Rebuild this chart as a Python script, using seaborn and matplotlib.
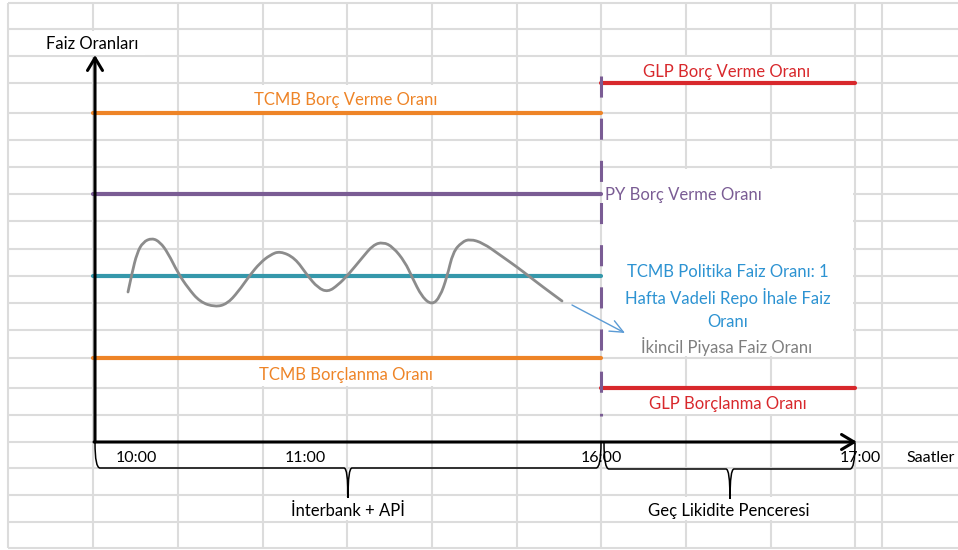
import matplotlib
matplotlib.use("Agg")
import matplotlib.pyplot as plt
from matplotlib.path import Path
from matplotlib.patches import PathPatch, Rectangle
import seaborn as sns
import pandas as pd

# diagram is laid out in the pixel space of the original sheet (x right, y down)
grid_cols = [8, 93, 178, 263, 347, 432, 517, 601, 686, 771, 855, 882]
grid_rows = [3, 29, 56, 83, 113, 140, 167, 194, 221, 249, 276, 303, 330, 358,
             388, 415, 442, 468, 495, 522, 548]

# policy corridor (left side, until 16:00)
tcmb_names = ["TCMB Borç Verme Oranı", "PY Borç Verme Oranı",
              "TCMB Politika Faiz Oranı", "TCMB Borçlanma Oranı"]
tcmb_levels = [113, 194, 276, 358]
tcmb_colors = ["#EE8427", "#7A5C94", "#3598AB", "#EE8427"]

# late liquidity window (right side, 16:00-17:00)
glp_names = ["GLP Borç Verme Oranı", "GLP Borçlanma Oranı"]
glp_levels = [83, 388]

# secondary market rate
wave_x = [128, 132, 137, 143, 152, 160, 168, 178, 188, 200, 215, 227, 238, 250,
          260, 270, 280, 295, 307, 318, 328, 338, 348, 362, 373, 383, 393, 405,
          412, 422, 432, 440, 447, 453, 462, 470, 483, 500, 517, 530, 543, 562]
wave_y = [292, 273, 253, 242, 238, 242, 253, 273, 288, 302, 307, 304, 292, 275,
          263, 255, 251, 258, 275, 288, 292, 285, 275, 258, 245, 242, 247, 262,
          277, 297, 305, 297, 277, 252, 242, 239, 243, 255, 267, 277, 287, 301]

tick_x = [136, 305, 601, 860]
tick_labels = ["10:00", "11:00", "16:00", "17:00"]

x_origin, x_end, y_top, y_axis = 95, 857, 55, 442
t_start = 93
t_split = 601
t_close = 855

sns.set_theme(style="white")
plt.rcParams["font.family"] = ["Lato", "DejaVu Sans"]

fig = plt.figure(figsize=(9.58, 5.5), dpi=100)
ax = fig.add_axes([0, 0, 1, 1])

gc = "#DCDCDC"
ax.hlines(grid_rows, 8, 958, color=gc, lw=1.5, zorder=1)
ax.vlines(grid_cols, 3, 548, color=gc, lw=1.5, zorder=1)

# text boxes of the original hide the sheet grid
boxes = [(40, 31, 105, 24), (240, 85, 210, 26), (620, 57, 220, 25),
         (603, 169, 250, 187), (240, 360, 210, 26), (620, 390, 220, 24),
         (280, 497, 140, 23), (640, 497, 175, 23)]
for bx, by, bw, bh in boxes:
    ax.add_patch(Rectangle((bx, by), bw, bh, facecolor="white",
                           edgecolor="none", zorder=1.5))

# rate lines
rows = []
for i, (name, lvl) in enumerate(zip(tcmb_names, tcmb_levels)):
    rows += [(f"{i}", t_start, lvl), (f"{i}", t_split, lvl)]
for j, (name, lvl) in enumerate(zip(glp_names, glp_levels)):
    rows += [(f"g{j}", t_split, lvl), (f"g{j}", t_close, lvl)]
rates = pd.DataFrame(rows, columns=["line", "x", "y"])
palette = {f"{i}": c for i, c in enumerate(tcmb_colors)}
palette.update({"g0": "#D8282C", "g1": "#D8282C"})
sns.lineplot(data=rates, x="x", y="y", hue="line", units="line",
             estimator=None, sort=False, palette=palette, lw=3,
             legend=False, ax=ax, zorder=3)

ax.plot([t_split, t_split], [76, 416], color="#7A5C94", lw=2.2,
        linestyle=(0, (6.9, 6.9)), zorder=3)

# smooth curve drawn with the read points as quadratic control points
verts = [(wave_x[0], wave_y[0])]
codes = [Path.MOVETO]
for k in range(1, len(wave_x) - 1):
    verts += [(wave_x[k], wave_y[k]),
              ((wave_x[k] + wave_x[k + 1]) / 2, (wave_y[k] + wave_y[k + 1]) / 2)]
    codes += [Path.CURVE3, Path.CURVE3]
verts.append((wave_x[-1], wave_y[-1]))
codes.append(Path.LINETO)
ax.add_patch(PathPatch(Path(verts, codes), facecolor="none",
                       edgecolor="#8C8C8C", lw=2, capstyle="round", zorder=4))

ax.annotate("", xy=(625, 333), xytext=(572, 305),
            arrowprops=dict(arrowstyle="->,head_length=0.8,head_width=0.35",
                            color="#5B9BD5", lw=1, shrinkA=0, shrinkB=0),
            zorder=4)

# axes arrows
for start, end in [((x_origin, y_axis), (x_origin, y_top)),
                   ((x_origin - 1, y_axis), (x_end, y_axis))]:
    ax.annotate("", xy=end, xytext=start,
                arrowprops=dict(arrowstyle="->,head_length=0.75,head_width=0.45",
                                color="black", lw=2.2, shrinkA=0, shrinkB=0,
                                mutation_scale=12), zorder=5)


def brace(xa, xb, ytop, ymid, xt, ytip):
    verts = [(xa, ytop), (xa, ymid), (xa + 5, ymid), (xt - 4, ymid),
             (xt, ymid), (xt, ytip),
             (xt, ymid), (xt + 4, ymid), (xb - 5, ymid), (xb, ymid), (xb, ytop)]
    codes = [Path.MOVETO, Path.CURVE3, Path.CURVE3, Path.LINETO,
             Path.CURVE3, Path.CURVE3,
             Path.CURVE3, Path.CURVE3, Path.LINETO, Path.CURVE3, Path.CURVE3]
    ax.add_patch(PathPatch(Path(verts, codes), facecolor="none",
                           edgecolor="black", lw=1.1, zorder=5))


brace(x_origin, t_split, 443, 468, 348, 498)
brace(t_split + 3, t_close, 443, 469, 730, 499)

fs = 12
ax.text(92, 44, "Faiz Oranları", fontsize=fs, ha="center", va="center",
        color="black", zorder=6)
ax.text(346, 100, tcmb_names[0], fontsize=fs, ha="center", va="center",
        color=tcmb_colors[0], zorder=6)
ax.text(605, 195, tcmb_names[1], fontsize=fs, ha="left", va="center",
        color=tcmb_colors[1], zorder=6)
ax.text(728, 297, "TCMB Politika Faiz Oranı: 1\nHafta Vadeli Repo İhale Faiz\nOranı",
        fontsize=fs, ha="center", va="center", color="#2D93D2",
        linespacing=1.5, zorder=6)
ax.text(727, 346, "İkincil Piyasa Faiz Oranı", fontsize=fs, ha="center",
        va="center", color="#7F7F7F", zorder=6)
ax.text(346, 375, tcmb_names[3], fontsize=fs, ha="center", va="center",
        color=tcmb_colors[3], zorder=6)
ax.text(727, 72, glp_names[0], fontsize=fs, ha="center", va="center",
        color="#D8282C", zorder=6)
ax.text(728, 404, glp_names[1], fontsize=fs, ha="center", va="center",
        color="#D8282C", zorder=6)

for tx, tl in zip(tick_x, tick_labels):
    ax.text(tx, 458, tl, fontsize=11.5, ha="center", va="center",
            color="black", zorder=6)
ax.text(906, 458, "Saatler", fontsize=11.5, ha="left", va="center",
        color="black", zorder=6)
ax.text(348, 511, "İnterbank + APİ", fontsize=fs, ha="center", va="center",
        color="black", zorder=6)
ax.text(729, 511, "Geç Likidite Penceresi", fontsize=fs, ha="center",
        va="center", color="black", zorder=6)

ax.set_xlim(0, 958)
ax.set_ylim(550, 0)
ax.axis("off")

fig.savefig("out.png", dpi=100)
